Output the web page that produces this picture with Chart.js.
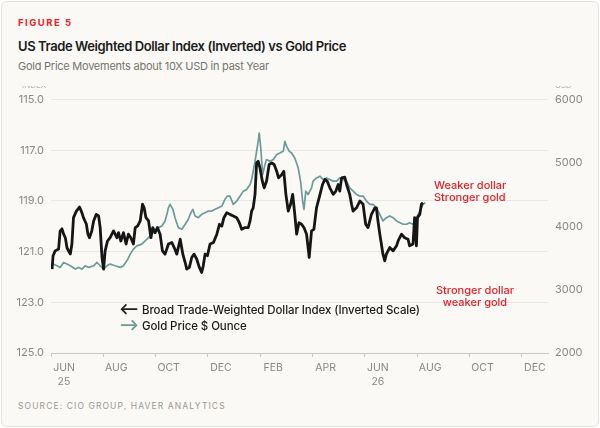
<!DOCTYPE html>
<html>
<head>
<meta charset="utf-8">
<script src="https://cdn.jsdelivr.net/npm/chart.js@4.4.1/dist/chart.umd.min.js"></script>
<style>
  html, body { margin: 0; padding: 0; background: #ffffff; }
  body { width: 600px; height: 428px; position: relative; overflow: hidden; font-family: Inter, "Noto Sans", sans-serif; }
  .card { position: absolute; left: 1px; top: 1px; width: 596px; height: 424px; background: #faf9f6; border: 1px solid #e3e1dc; border-radius: 6px; }
  .txt { position: absolute; white-space: nowrap; }
  .fig { left: 18px; top: 17px; font-size: 9.5px; font-weight: 700; letter-spacing: 1.5px; color: #e0242c; }
  .title { left: 18px; top: 38px; font-size: 13px; font-weight: 600; color: #1c1c1c; letter-spacing: -0.4px; }
  .sub { left: 18px; top: 59px; font-size: 11px; color: #77756f; letter-spacing: -0.25px; }
  .src { left: 18px; top: 401px; font-size: 8.5px; letter-spacing: 1.1px; color: #9a9893; }
  .leg { left: 119px; font-size: 11.5px; font-weight: 500; color: #1c1c1c; letter-spacing: -0.1px; line-height: 14px; }
  .leg span { display: inline-block; width: 23px; font-weight: 700; font-size: 15px; line-height: 12px; }
  .note { font-size: 11px; color: #e0242c; font-weight: 500; line-height: 12px; }
  canvas { position: absolute; left: 0; top: 86px; }
</style>
</head>
<body>
<div class="card"></div>
<div class="txt fig">FIGURE 5</div>
<div class="txt title">US Trade Weighted Dollar Index (Inverted) vs Gold Price</div>
<div class="txt sub">Gold Price Movements about 10X USD in past Year</div>
<canvas id="chart" width="600" height="309"></canvas>
<div class="txt leg" style="top:303px"><span>&#10229;</span>Broad Trade-Weighted Dollar Index (Inverted Scale)</div>
<div class="txt leg" style="top:319px"><span style="color:#6b9b9a">&#10230;</span>Gold Price $ Ounce</div>
<div class="txt note" style="left:434px; top:179px">Weaker dollar<br>Stronger gold</div>
<div class="txt note" style="left:436px; top:284px; text-align:center; width:78px">Stronger dollar<br>weaker gold</div>
<div class="txt src">SOURCE: CIO GROUP, HAVER ANALYTICS</div>

<script>
// x values are months since the start of June 2025
const monthLabels = ['JUN', 'AUG', 'OCT', 'DEC', 'FEB', 'APR', 'JUN', 'AUG', 'OCT', 'DEC'];
const yearLabels = { 0: '25', 12: '26' };

const dollarMonths = [
  0.04, 0.08, 0.16, 0.29, 0.35, 0.42, 0.48, 0.55, 0.61, 0.67, 0.74, 0.80, 0.86, 0.97, 1.09, 1.18, 1.24, 1.35, 1.41, 1.47,
  1.56, 1.63, 1.73, 1.82, 1.88, 1.95, 2.01, 2.07, 2.16, 2.26, 2.39, 2.52, 2.58, 2.67, 2.77, 2.87, 2.96, 3.05, 3.15, 3.22,
  3.31, 3.41, 3.50, 3.56, 3.63, 3.73, 3.82, 3.89, 3.98, 4.07, 4.17, 4.26, 4.36, 4.49, 4.62, 4.71, 4.81, 4.94, 5.04, 5.13,
  5.19, 5.29, 5.38, 5.47, 5.57, 5.67, 5.76, 5.82, 5.89, 5.98, 6.08, 6.21, 6.34, 6.44, 6.53, 6.61, 6.72, 6.84, 6.97, 7.10,
  7.20, 7.29, 7.42, 7.54, 7.61, 7.67, 7.73, 7.80, 7.86, 7.92, 7.99, 8.08, 8.15, 8.24, 8.34, 8.44, 8.53, 8.63, 8.70, 8.82,
  8.90, 8.98, 9.07, 9.16, 9.24, 9.32, 9.39, 9.48, 9.58, 9.67, 9.77, 9.87, 9.96, 10.05, 10.15, 10.25, 10.38, 10.47, 10.56, 10.66,
  10.79, 10.89, 10.98, 11.04, 11.11, 11.23, 11.30, 11.42, 11.49, 11.55, 11.68, 11.81, 11.93, 12.03, 12.12, 12.25, 12.38, 12.44, 12.50, 12.57,
  12.63, 12.69, 12.76, 12.82, 12.95, 13.08, 13.21, 13.27, 13.40, 13.52, 13.65, 13.71, 13.84, 13.90, 13.97, 14.01, 14.10, 14.16, 14.22
];
const dollarIndex = [
  121.69, 121.16, 120.97, 120.90, 120.18, 120.10, 120.30, 120.46, 120.84, 120.97, 121.09, 120.69, 119.66, 119.40, 119.24, 119.46, 119.66, 119.91, 120.30, 120.45,
  120.18, 119.79, 119.53, 119.59, 120.05, 121.23, 121.69, 120.97, 120.58, 120.45, 120.18, 120.45, 120.25, 120.58, 120.25, 120.70, 120.31, 120.45, 120.70, 120.05,
  119.99, 119.79, 119.13, 119.27, 119.66, 119.79, 120.45, 120.05, 120.25, 120.05, 120.31, 120.97, 121.10, 120.70, 120.64, 120.84, 121.10, 120.51, 121.10, 121.43,
  121.69, 121.62, 121.23, 121.10, 121.29, 121.62, 121.82, 121.56, 121.10, 121.16, 120.70, 120.64, 120.31, 119.92, 119.99, 119.66, 119.46, 119.53, 119.59, 119.66,
  119.86, 120.12, 120.05, 120.05, 119.79, 119.40, 119.27, 118.74, 117.50, 117.43, 117.70, 118.22, 118.48, 118.22, 117.56, 117.50, 117.56, 117.83, 118.09, 117.96,
  117.83, 118.74, 119.40, 119.13, 118.74, 119.53, 120.31, 119.86, 119.92, 120.05, 120.31, 121.23, 120.18, 120.12, 119.27, 118.88, 118.35, 118.15, 118.22, 118.48,
  118.74, 118.61, 118.35, 118.61, 118.09, 118.06, 118.35, 118.74, 119.13, 119.40, 119.27, 119.00, 119.13, 119.92, 120.05, 119.53, 119.27, 119.27, 119.79, 120.31,
  120.70, 121.10, 121.36, 121.10, 120.84, 120.97, 120.77, 120.58, 120.31, 120.45, 120.51, 120.77, 120.70, 119.66, 120.77, 119.66, 119.53, 119.13, 119.07
];

const goldMonths = [
  0.08, 0.23, 0.35, 0.48, 0.61, 0.74, 0.93, 1.05, 1.18, 1.31, 1.44, 1.63, 1.76, 1.88, 2.01, 2.14, 2.26, 2.45, 2.65, 2.77,
  2.90, 3.03, 3.15, 3.28, 3.47, 3.60, 3.73, 3.85, 3.98, 4.11, 4.24, 4.36, 4.43, 4.49, 4.55, 4.66, 4.74, 4.87, 5.00, 5.13,
  5.25, 5.32, 5.42, 5.51, 5.63, 5.76, 5.89, 6.02, 6.15, 6.27, 6.40, 6.53, 6.65, 6.74, 6.84, 6.97, 7.10, 7.23, 7.35, 7.48,
  7.61, 7.67, 7.73, 7.80, 7.86, 7.92, 7.96, 8.02, 8.09, 8.18, 8.24, 8.37, 8.50, 8.63, 8.75, 8.88, 8.94, 9.01, 9.11, 9.20,
  9.32, 9.45, 9.54, 9.62, 9.67, 9.74, 9.83, 9.96, 10.02, 10.15, 10.28, 10.40, 10.53, 10.66, 10.79, 10.92, 11.04, 11.17, 11.30, 11.42,
  11.55, 11.68, 11.81, 11.93, 12.06, 12.19, 12.31, 12.44, 12.57, 12.69, 12.82, 12.95, 13.08, 13.21, 13.34, 13.46, 13.59, 13.71, 13.84, 13.97,
  14.10, 14.22, 14.31
];
const goldPrice = [
  3404, 3377, 3351, 3429, 3404, 3377, 3325, 3351, 3325, 3377, 3351, 3377, 3429, 3377, 3325, 3377, 3404, 3377, 3351, 3377,
  3456, 3561, 3640, 3691, 3718, 3770, 3822, 3875, 3927, 3979, 4005, 4084, 4189, 4293, 4346, 4268, 4136, 3979, 3954, 4032,
  4111, 4189, 4268, 4163, 4136, 4189, 4214, 4241, 4241, 4268, 4293, 4320, 4425, 4477, 4477, 4346, 4398, 4477, 4555, 4582,
  4660, 4739, 4869, 5026, 5183, 5340, 5471, 5235, 4817, 4974, 5053, 5026, 5053, 5132, 5157, 5183, 5340, 5262, 5183, 5157,
  5078, 4921, 4712, 4398, 4268, 4555, 4503, 4607, 4712, 4764, 4791, 4739, 4764, 4739, 4712, 4712, 4764, 4739, 4712, 4607,
  4555, 4503, 4477, 4477, 4398, 4346, 4346, 4293, 4189, 4084, 4136, 4163, 4136, 4084, 4057, 4032, 4032, 4057, 4032, 4136,
  4241, 4346, 4371
];

const toPoints = (xs, ys) => xs.map((x, i) => ({ x: x, y: ys[i] }));

const tickFont = { family: 'Inter', size: 11 };
const tickColor = '#8a8883';

// faint axis captions sitting above the plot, mostly cut off by the top edge
const axisCaptions = {
  id: 'axisCaptions',
  afterDraw(chart) {
    const ctx = chart.ctx;
    ctx.save();
    ctx.font = '8px Inter';
    ctx.fillStyle = '#b5b3ae';
    ctx.textBaseline = 'alphabetic';
    ctx.textAlign = 'left';
    ctx.fillText('INDEX', 22, 2);
    ctx.fillText('USD', 555, 2);
    ctx.restore();
  }
};

new Chart(document.getElementById('chart'), {
  type: 'line',
  data: {
    datasets: [
      {
        label: 'Broad Trade-Weighted Dollar Index (Inverted Scale)',
        data: toPoints(dollarMonths, dollarIndex),
        yAxisID: 'y',
        borderColor: '#161616',
        borderWidth: 2.8,
        pointRadius: 0,
        tension: 0,
        borderJoinStyle: 'round',
        order: 0
      },
      {
        label: 'Gold Price $ Ounce',
        data: toPoints(goldMonths, goldPrice),
        yAxisID: 'y1',
        borderColor: '#6b9b9a',
        borderWidth: 1.7,
        pointRadius: 0,
        tension: 0,
        borderJoinStyle: 'round',
        order: 1
      }
    ]
  },
  options: {
    responsive: false,
    animation: false,
    events: [],
    layout: { padding: { top: 12, left: 0, right: 0, bottom: 0 } },
    plugins: { legend: { display: false }, tooltip: { enabled: false } },
    scales: {
      x: {
        type: 'linear',
        min: 0,
        max: 19,
        afterFit: (scale) => { scale.height = 42; },
        grid: { drawOnChartArea: false, drawTicks: true, tickLength: 4, color: '#c9c7c2' },
        border: { display: true, color: '#c9c7c2', width: 1 },
        ticks: {
          stepSize: 2,
          includeBounds: false,
          autoSkip: false,
          maxRotation: 0,
          labelOffset: 13,
          padding: 3,
          color: tickColor,
          font: { family: 'Inter', size: 10.5, lineHeight: 1.4 },
          callback: (v) => {
            const name = monthLabels[v / 2];
            return yearLabels[v] ? [name, yearLabels[v]] : name;
          }
        }
      },
      y: {
        position: 'left',
        reverse: true,
        min: 115,
        max: 125,
        afterFit: (scale) => { scale.width = 51; },
        grid: { color: '#e9e7e2', drawTicks: false },
        border: { display: false },
        ticks: {
          stepSize: 2,
          padding: 7,
          color: tickColor,
          font: tickFont,
          callback: (v) => v.toFixed(1)
        }
      },
      y1: {
        position: 'right',
        min: 2000,
        max: 6000,
        afterFit: (scale) => { scale.width = 52; },
        grid: { drawOnChartArea: false, drawTicks: false },
        border: { display: false },
        ticks: {
          stepSize: 1000,
          padding: 7,
          color: tickColor,
          font: tickFont,
          callback: (v) => String(v)
        }
      }
    }
  },
  plugins: [axisCaptions]
});
</script>
</body>
</html>
